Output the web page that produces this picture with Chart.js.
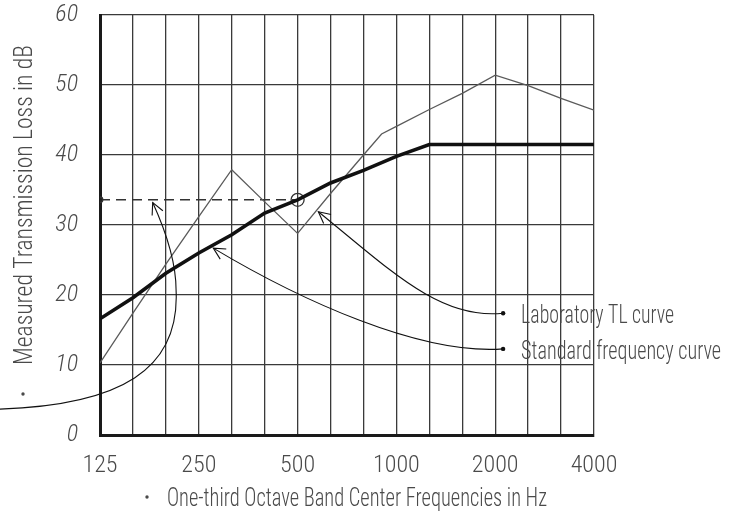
<!DOCTYPE html>
<html>
<head>
<meta charset="utf-8">
<script src="https://cdn.jsdelivr.net/npm/chart.js@4.4.1/dist/chart.umd.min.js"></script>
<style>
  html, body { margin: 0; padding: 0; background: #fff; }
  #wrap { width: 739px; height: 517px; position: relative; }
</style>
</head>
<body>
<div id="wrap"><canvas id="c"></canvas></div>
<script>
// ---- Data ----
// One-third octave band centre frequencies (Hz)
const bands = ['125','160','200','250','315','400','500','630','800','1000','1250','1600','2000','2500','3150','4000'];
// Tick labels shown on the frequency axis
const freqTickLabels = ['125','250','500','1000','2000','4000'];
// dB tick values
const dbTicks = [0, 10, 20, 30, 40, 50, 60];
// Standard frequency (contour) curve, dB at each band
const standardCurve = [16.6, 19.6, 23.1, 26.0, 28.6, 31.7, 33.6, 36.0, 37.8, 39.8, 41.5, 41.5, 41.5, 41.5, 41.5, 41.5];
// Laboratory TL curve: band positions (index into bands, one hand-drawn vertex between 800 and 1000) and dB values
const labBandPos = [0, 1, 2, 3, 4, 5, 6, 7, 8, 8.55, 9, 10, 11, 12, 13, 14, 15];
const labTL      = [10.3, 17.4, 24.4, 31.2, 37.9, 33.3, 28.8, 34.5, 40.0, 43.0, 44.1, 46.5, 48.8, 51.4, 49.9, 48.1, 46.4];
// Rating read at 500 Hz and carried back to the dB axis (dashed line)
const ratingBandFrom = 0;
const ratingBandTo = 6;
const ratingValue = standardCurve[6];

// Annotation texts
const yTitle = 'Measured Transmission Loss in dB';
const xTitle = 'One-third Octave Band Center Frequencies in Hz';
const labLabel = 'Laboratory TL curve';
const stdLabel = 'Standard frequency curve';

// Leader curves, in data units [bandPosition, dB]: tip first, then bezier controls, end last
const leaderLab = [[6.63, 31.9], [8.81, 23.6], [10.32, 16.4], [12.24, 17.4]];
const leaderStd = [[3.44, 26.7], [6.07, 19.3], [9.72, 11.4], [12.24, 12.3]];
const leaderRatingA = [[-3.04, 3.7], [0.61, 4.3], [2.43, 9.3], [2.31, 20.7]];
const leaderRatingB = [[2.31, 20.7], [2.31, 25.0], [1.91, 30.0], [1.60, 33.2]];

const FONT = "'Liberation Sans Narrow', 'Roboto Condensed', Roboto, 'Liberation Sans', sans-serif";
const TEXT_COLOR = '#4a4a4a';

const labPoints = labBandPos.map((p, i) => ({ x: p, y: labTL[i] }));
const stdPoints = standardCurve.map((v, i) => ({ x: i, y: v }));
const ratingPoints = [{ x: ratingBandFrom, y: ratingValue }, { x: ratingBandTo, y: ratingValue }];

function fitText(ctx, text, x, y, width, px) {
  ctx.font = '300 ' + px + 'px ' + FONT;
  const w = ctx.measureText(text).width;
  ctx.save();
  ctx.translate(x, y);
  ctx.scale(width / w, 1);
  ctx.textAlign = 'left';
  ctx.textBaseline = 'alphabetic';
  ctx.fillText(text, 0, 0);
  ctx.restore();
}

const annotate = {
  id: 'annotate',
  afterDatasetsDraw(chart) {
    const ctx = chart.ctx;
    const xs = chart.scales.x, ys = chart.scales.y;
    const P = (pt) => [xs.getPixelForValue(pt[0]), ys.getPixelForValue(pt[1])];
    ctx.save();
    ctx.strokeStyle = '#111';
    ctx.fillStyle = '#111';
    ctx.lineWidth = 1.1;
    function bez(seg, moveFirst) {
      const p = seg.map(P);
      if (moveFirst) ctx.moveTo(p[0][0], p[0][1]);
      ctx.bezierCurveTo(p[1][0], p[1][1], p[2][0], p[2][1], p[3][0], p[3][1]);
    }
    function head(tip, from) {
      const t = P(tip), f = P(from);
      const a = Math.atan2(f[1] - t[1], f[0] - t[0]);
      const L = 13, h = 0.47;
      ctx.beginPath();
      ctx.moveTo(t[0] + L * Math.cos(a - h), t[1] + L * Math.sin(a - h));
      ctx.lineTo(t[0], t[1]);
      ctx.lineTo(t[0] + L * Math.cos(a + h), t[1] + L * Math.sin(a + h));
      ctx.stroke();
    }
    function dot(pt) {
      const p = P(pt);
      ctx.beginPath(); ctx.arc(p[0], p[1], 2.2, 0, Math.PI * 2); ctx.fill();
    }
    // lab leader
    ctx.beginPath(); bez(leaderLab, true); ctx.stroke();
    head(leaderLab[0], leaderLab[1]); dot(leaderLab[3]);
    // std leader
    ctx.beginPath(); bez(leaderStd, true); ctx.stroke();
    head(leaderStd[0], leaderStd[1]); dot(leaderStd[3]);
    // rating leader
    ctx.beginPath(); bez(leaderRatingA, true); bez(leaderRatingB, false); ctx.stroke();
    head(leaderRatingB[3], leaderRatingB[2]);

    // texts
    ctx.fillStyle = TEXT_COLOR;
    const labEnd = P(leaderLab[3]), stdEnd = P(leaderStd[3]);
    fitText(ctx, labLabel, labEnd[0] + 18, labEnd[1] + 10, 153, 26);
    fitText(ctx, stdLabel, stdEnd[0] + 18, stdEnd[1] + 10.5, 200, 26);
    // x title
    const area = chart.chartArea;
    fitText(ctx, xTitle, 167, area.bottom + 71, 380, 25);
    ctx.beginPath(); ctx.arc(147, area.bottom + 62, 1.7, 0, Math.PI * 2); ctx.fill();
    // y title (rotated)
    ctx.save();
    ctx.translate(32, 365);
    ctx.rotate(-Math.PI / 2);
    fitText(ctx, yTitle, 0, 0, 320, 26);
    ctx.restore();
    ctx.beginPath(); ctx.arc(23, 394, 1.7, 0, Math.PI * 2); ctx.fill();
    ctx.restore();
  }
};

new Chart(document.getElementById('c'), {
  type: 'line',
  data: {
    datasets: [
      {
        label: 'Standard frequency curve',
        data: stdPoints,
        borderColor: '#111',
        borderWidth: 3.6,
        pointRadius: 0,
        tension: 0,
        order: 1
      },
      {
        label: 'Laboratory TL curve',
        data: labPoints,
        borderColor: '#5a5a5a',
        borderWidth: 1.3,
        pointRadius: 0,
        tension: 0,
        order: 2
      },
      {
        label: 'Rating',
        data: ratingPoints,
        borderColor: '#333',
        borderWidth: 1.5,
        borderDash: [10, 6],
        pointRadius: [2.8, 6.5],
        pointBackgroundColor: ['#222', 'rgba(0,0,0,0)'],
        pointBorderColor: '#333',
        pointBorderWidth: 1.3,
        tension: 0,
        order: 3
      }
    ]
  },
  options: {
    responsive: true,
    maintainAspectRatio: false,
    animation: false,
    layout: { padding: { top: 15, right: 145, left: 0, bottom: 0 } },
    plugins: { legend: { display: false }, tooltip: { enabled: false } },
    scales: {
      x: {
        type: 'linear',
        min: 0,
        max: bands.length - 1,
        afterFit(s) { s.height = 82; s.paddingLeft = 0; s.paddingRight = 0; },
        afterBuildTicks(s) { s.ticks = bands.map((b, i) => ({ value: i })); },
        ticks: {
          autoSkip: false,
          maxRotation: 0,
          padding: 17,
          color: TEXT_COLOR,
          font: { family: FONT, size: 24, weight: 300 },
          callback(v) {
            const lab = bands[Math.round(v)];
            return freqTickLabels.includes(lab) ? lab : '';
          }
        },
        grid: { color: '#3a3a3a', lineWidth: 1.3, drawTicks: false },
        border: { color: '#1a1a1a', width: 3 }
      },
      y: {
        min: 0,
        max: 60,
        afterFit(s) { s.width = 100; s.paddingTop = 0; s.paddingBottom = 0; },
        afterBuildTicks(s) { s.ticks = dbTicks.map(v => ({ value: v })); },
        ticks: {
          padding: 22,
          color: TEXT_COLOR,
          font: { family: FONT, size: 24, style: 'italic', weight: 300 }
        },
        grid: { color: '#3a3a3a', lineWidth: 1.3, drawTicks: false },
        border: { color: '#1a1a1a', width: 3 }
      }
    }
  },
  plugins: [annotate]
});
</script>
</body>
</html>
